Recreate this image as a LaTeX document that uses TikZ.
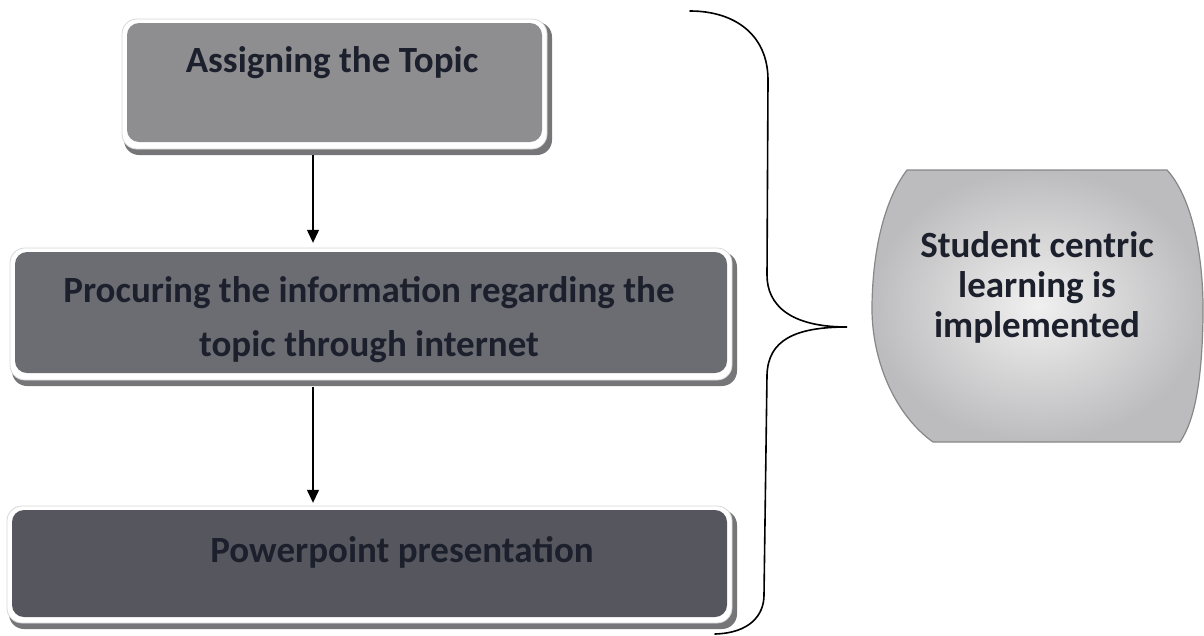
\documentclass[tikz,border=0pt]{standalone}
\usepackage{fontspec}
\setmainfont{Carlito}
\usetikzlibrary{arrows.meta}
\definecolor{bodyA}{RGB}{142,142,144}
\definecolor{bodyB}{RGB}{108,109,115}
\definecolor{bodyC}{RGB}{86,87,94}
\definecolor{shadowc}{RGB}{118,118,120}
\definecolor{framec}{RGB}{215,215,218}
\definecolor{txt}{RGB}{28,32,44}
\definecolor{silverin}{RGB}{240,240,240}
\definecolor{silverout}{RGB}{188,188,190}
\definecolor{silveredge}{RGB}{135,135,137}
\begin{document}
\begin{tikzpicture}[x=1pt,y=-1pt,
  shadowbox/.style={fill=shadowc, rounded corners=15pt},
  framebox/.style={fill=white, draw=framec, line width=0.8pt, rounded corners=15pt},
  bodybox/.style={rectangle, rounded corners=12pt, inner sep=0pt, draw=none},
  lbl/.style={font=\bfseries\fontsize{37}{44}\selectfont, text=txt, align=center, inner sep=0pt},
  arr/.style={line width=1.3pt, -{Triangle[length=13pt,width=12pt]}},
  bracec/.style={line width=1.6pt, line cap=round}
]
\useasboundingbox (0,0) rectangle (1204,635);

% box 1
\fill[shadowbox] (124,22) rectangle (552,155);
\filldraw[framebox] (122,19) rectangle (547,149);
\node[bodybox, fill=bodyA, minimum width=415pt, minimum height=119pt] (b1) at (334.5,82.5) {};
\node[lbl] (t1) at (332,63) {Assigning the Topic};

% box 2
\fill[shadowbox] (12,252) rectangle (737,386);
\filldraw[framebox] (10,248) rectangle (732,380);
\node[bodybox, fill=bodyB, minimum width=712pt, minimum height=121pt] (b2) at (371,312.5) {};
\node[lbl, font=\bfseries\fontsize{37}{54}\selectfont] (t2) at (369,320) {Procuring the information regarding the\\topic through internet};

% box 3
\fill[shadowbox] (9,510) rectangle (737,629);
\filldraw[framebox] (7,506) rectangle (732,623);
\node[bodybox, fill=bodyC, minimum width=715pt, minimum height=107pt] (b3) at (369.5,563.5) {};
\node[lbl] (t3) at (402,552) {Powerpoint presentation};

% arrows
\coordinate (ax) at (313,0);
\draw[arr, shorten <=13pt, shorten >=9pt] (b1.south -| ax) -- (b2.north -| ax);
\draw[arr, shorten <=14pt, shorten >=7pt] (b2.south -| ax) -- (b3.north -| ax);

% brace
\draw[bracec] (690,11) .. controls (735,11) and (768,35) .. (768,80)
  -- (767,275) .. controls (767,305) and (790,327) .. (847,327)
  .. controls (795,327) and (768,340) .. (767,375)
  -- (764,595) .. controls (764,615) and (750,633) .. (715,634);

% goal shape
\path[draw=silveredge, line width=1.2pt, inner color=silverin, outer color=silverout]
  (907,170) -- (1167,170)
  .. controls (1190,195) and (1204,250) .. (1203,317)
  .. controls (1202,380) and (1195,420) .. (1180,442)
  -- (933,442)
  .. controls (895,415) and (871,360) .. (872,305)
  .. controls (873,240) and (888,195) .. (907,170) -- cycle;
\node[lbl, font=\bfseries\fontsize{37}{40}\selectfont] (goal) at (1037,287) {Student centric\\learning is\\implemented};
\end{tikzpicture}
\end{document}
